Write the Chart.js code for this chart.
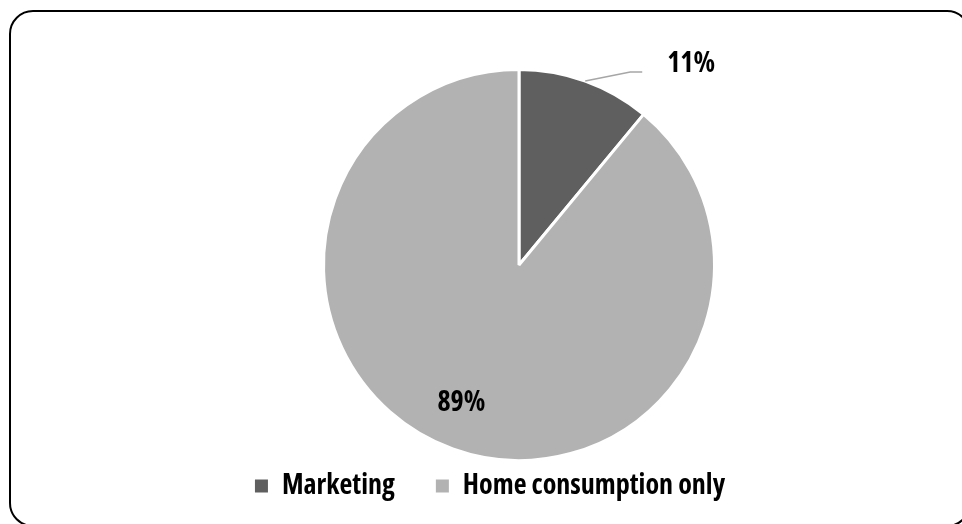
<!DOCTYPE html>
<html>
<head>
<meta charset="utf-8">
<script src="https://cdn.jsdelivr.net/npm/chart.js@4.4.1/dist/chart.umd.min.js"></script>
<style>
  html, body { margin: 0; padding: 0; background: #fff; overflow: hidden; }
  #wrap { position: relative; width: 962px; height: 524px; overflow: hidden; }
  #frame {
    position: absolute; left: 9px; top: 10px; width: 962px; height: 517px;
    border: 2px solid #000; border-radius: 24px; box-sizing: border-box;
  }
  canvas { position: absolute; left: 0; top: 0; }
</style>
</head>
<body>
<div id="wrap">
  <div id="frame"></div>
  <canvas id="pie" width="962" height="524"></canvas>
</div>
<script>
const categories = ['Marketing', 'Home consumption only'];
const shares = [11, 89];
const sliceColors = ['#5f5f5f', '#b2b2b2'];

const FONT = '"Open Sans", "DejaVu Sans", sans-serif';
// "condensed" rides along in the font shorthand so Open Sans uses its narrow width
const WEIGHT = 'bold condensed';

// pie sits right of the legend's centre, so the plot box is set by hand
const pieBox = { cx: 519, cy: 265, half: 197 };

const placePie = {
  id: 'placePie',
  afterLayout(chart) {
    const a = chart.chartArea;
    a.left = pieBox.cx - pieBox.half;
    a.right = pieBox.cx + pieBox.half;
    a.top = pieBox.cy - pieBox.half;
    a.bottom = pieBox.cy + pieBox.half;
    a.width = a.right - a.left;
    a.height = a.bottom - a.top;
  }
};

// percentage labels: the small slice gets a leader line out to the right
const pctLabels = {
  id: 'pctLabels',
  afterDatasetsDraw(chart) {
    const ctx = chart.ctx;
    const arcs = chart.getDatasetMeta(0).data;
    ctx.save();
    ctx.font = WEIGHT + ' 28px ' + FONT;
    ctx.fillStyle = '#000';
    ctx.textBaseline = 'middle';
    arcs.forEach((arc, i) => {
      const { x, y, startAngle, endAngle, outerRadius } = arc.getProps(
        ['x', 'y', 'startAngle', 'endAngle', 'outerRadius'], true);
      const mid = (startAngle + endAngle) / 2;
      const text = shares[i] + '%';
      if (shares[i] < 20) {
        const sx = x + Math.cos(mid) * outerRadius;
        const sy = y + Math.sin(mid) * outerRadius;
        const ex = sx + 45;
        const ey = sy - 9;
        ctx.strokeStyle = '#a6a6a6';
        ctx.lineWidth = 1.5;
        ctx.beginPath();
        ctx.moveTo(sx, sy);
        ctx.lineTo(ex, ey);
        ctx.lineTo(ex + 12, ey);
        ctx.stroke();
        ctx.textAlign = 'left';
        ctx.fillText(text, ex + 37, ey - 8);
      } else {
        const r = outerRadius * 0.75;
        ctx.textAlign = 'center';
        ctx.fillText(text, x + Math.cos(mid) * r - 8, y + Math.sin(mid) * r);
      }
    });
    ctx.restore();
  }
};

new Chart(document.getElementById('pie'), {
  type: 'pie',
  data: {
    labels: categories,
    datasets: [{
      data: shares,
      backgroundColor: sliceColors,
      borderColor: '#ffffff',
      borderWidth: 3,
    }],
  },
  options: {
    responsive: false,
    animation: false,
    layout: { padding: { top: 0, bottom: 14, left: 18, right: 0 } },
    plugins: {
      tooltip: { enabled: false },
      legend: {
        position: 'bottom',
        labels: {
          color: '#000',
          boxWidth: 13,
          boxHeight: 13,
          padding: 41,
          font: { family: FONT, size: 28, weight: WEIGHT },
          // plain filled squares, without the slices' white outline
          generateLabels(chart) {
            return Chart.overrides.pie.plugins.legend.labels
              .generateLabels(chart)
              .map((item) => ({ ...item, lineWidth: 0 }));
          },
        },
      },
    },
  },
  plugins: [placePie, pctLabels],
});
</script>
</body>
</html>
